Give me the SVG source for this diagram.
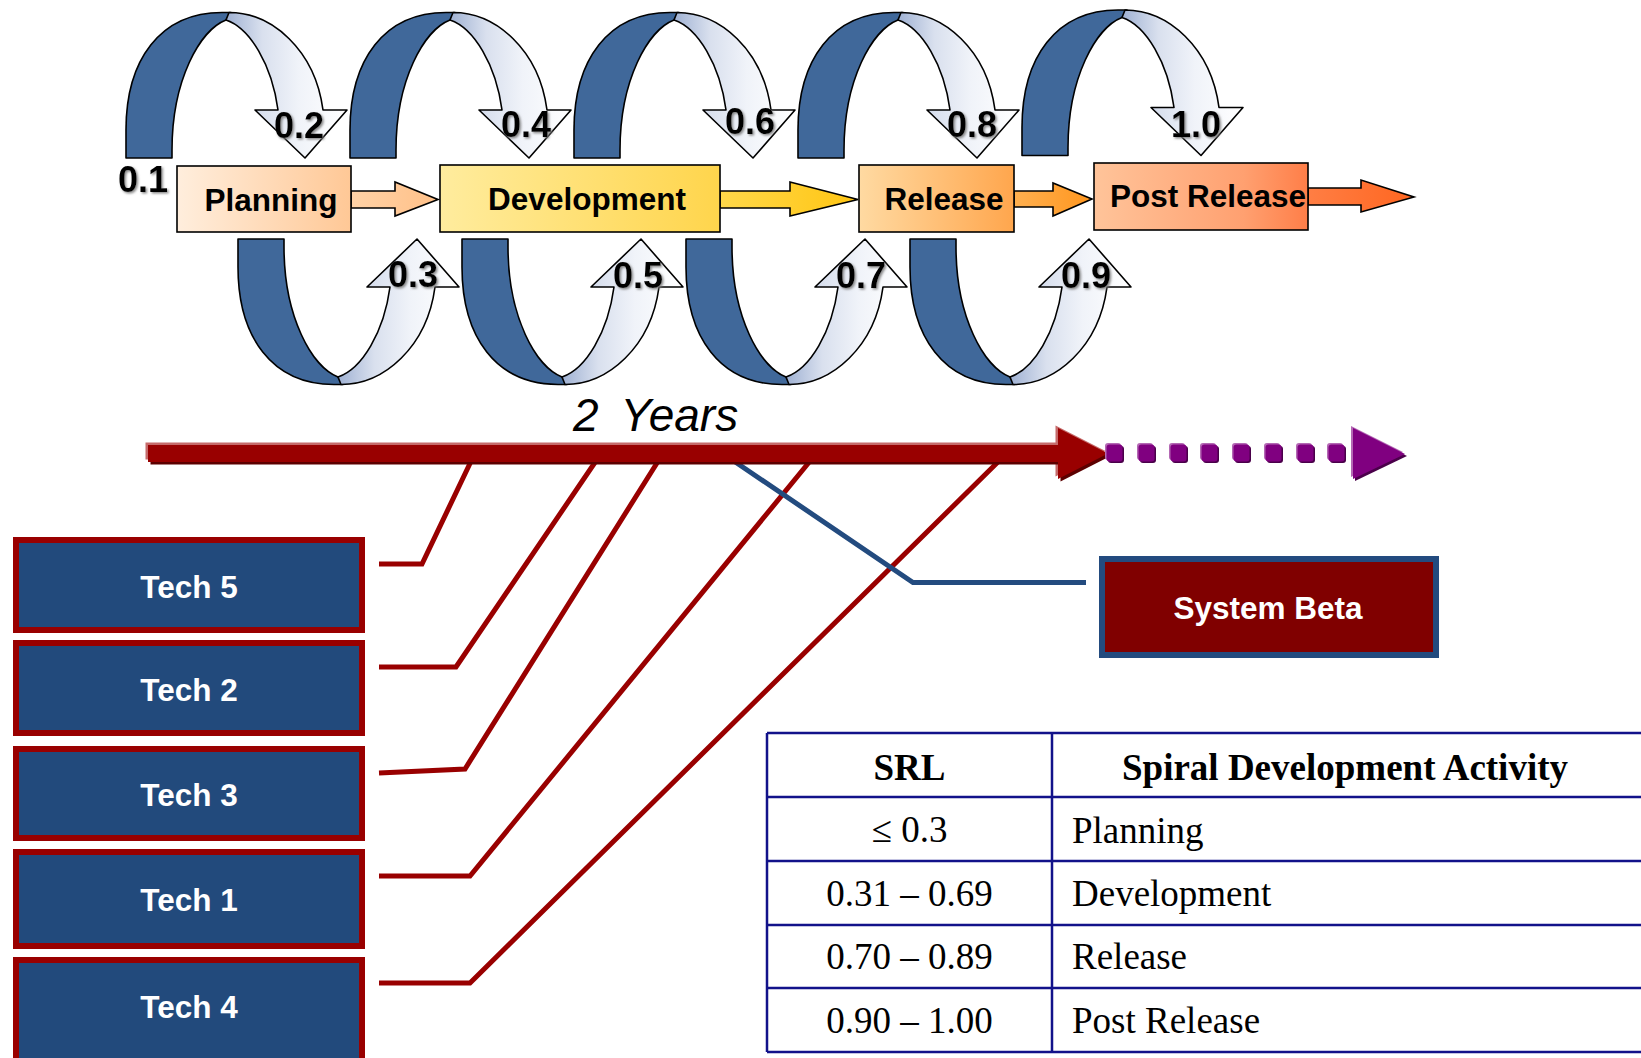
<svg xmlns="http://www.w3.org/2000/svg" xmlns:xlink="http://www.w3.org/1999/xlink" width="1641" height="1058" viewBox="0 0 1641 1058">
<style>
.blue{fill:#40689A;stroke:#000;stroke-width:1.6;stroke-linejoin:round}
.light{fill:url(#lightGrad);stroke:#000;stroke-width:1.6;stroke-linejoin:round}
.lbl{font-family:"Liberation Sans",Arial,sans-serif;font-weight:bold;font-size:36px;fill:#000;text-anchor:middle;filter:url(#sh)}
.phase{stroke:#000;stroke-width:1.6}
.ptxt{font-family:"Liberation Sans",Arial,sans-serif;font-weight:bold;font-size:31.5px;fill:#000;text-anchor:middle}
.tech rect{fill:#224A7C;stroke:#990000;stroke-width:6}
.tech text,.sys text{font-family:"Liberation Sans",Arial,sans-serif;font-weight:bold;font-size:31.5px;fill:#fff;text-anchor:middle}
.red{fill:none;stroke:#990000;stroke-width:5;stroke-linejoin:miter}
.bl{fill:none;stroke:#234B7F;stroke-width:5}
.tl{stroke:#12128A;stroke-width:2.5;fill:none}
.th{font-family:"Liberation Serif","Times New Roman",serif;font-weight:bold;font-size:37px;fill:#000}
.td{font-family:"Liberation Serif","Times New Roman",serif;font-size:37px;fill:#000}
</style>
<defs>
<linearGradient id="lightGrad" x1="0" y1="0" x2="1" y2="0">
<stop offset="0" stop-color="#9FB1D3"/><stop offset="0.3" stop-color="#D9E0EE"/><stop offset="0.6" stop-color="#F0F3F9"/><stop offset="1" stop-color="#FFFFFF"/>
</linearGradient>
<linearGradient id="gPlan" x1="0" y1="0" x2="1" y2="0"><stop offset="0" stop-color="#FFEEDD"/><stop offset="1" stop-color="#FFC896"/></linearGradient>
<linearGradient id="gPlanA" x1="0" y1="0" x2="1" y2="0"><stop offset="0" stop-color="#FFD2A6"/><stop offset="1" stop-color="#FFC088"/></linearGradient>
<linearGradient id="gDev" x1="0" y1="0" x2="1" y2="0"><stop offset="0" stop-color="#FFEC9E"/><stop offset="1" stop-color="#FFD54C"/></linearGradient>
<linearGradient id="gDevA" x1="0" y1="0" x2="1" y2="0"><stop offset="0" stop-color="#FFD84A"/><stop offset="1" stop-color="#FFC512"/></linearGradient>
<linearGradient id="gRel" x1="0" y1="0" x2="1" y2="0"><stop offset="0" stop-color="#FFDAA2"/><stop offset="1" stop-color="#FFA64D"/></linearGradient>
<linearGradient id="gRelA" x1="0" y1="0" x2="1" y2="0"><stop offset="0" stop-color="#FFB050"/><stop offset="1" stop-color="#FF961E"/></linearGradient>
<linearGradient id="gPost" x1="0" y1="0" x2="1" y2="0"><stop offset="0" stop-color="#FFC49A"/><stop offset="0.7" stop-color="#FFA070"/><stop offset="1" stop-color="#FF7E48"/></linearGradient>
<linearGradient id="gPostA" x1="0" y1="0" x2="1" y2="0"><stop offset="0" stop-color="#FF7E44"/><stop offset="1" stop-color="#FF6620"/></linearGradient>
<filter id="sh" x="-20%" y="-20%" width="140%" height="140%"><feDropShadow dx="1.5" dy="1.5" stdDeviation="0.8" flood-color="#7A7A7A" flood-opacity="0.9"/></filter>
<g id="loop">
<path class="blue" d="M126,158 L126,130 C126,60 160,12.5 222,12.5 L231,12.5 L226,20 C200,30 172,80 172,150 L172,158 Z"/>
<path class="light" d="M229,12.5 C272,12.5 315,50 323,110 L347,110 L305,158 L255,110 L278,110 C272,65 250,28 226,20 Z"/>
</g>
<path id="redArrow" d="M148,445 L1058,445 L1058,428 L1108,453.5 L1058,479 L1058,462 L148,462 Z"/>
<path id="purHead" d="M1353,428 L1405,454 L1353,479 Z"/>
<rect id="sq" width="16" height="17" rx="3"/>
</defs>
<rect width="1641" height="1058" fill="#fff"/>

<g id="loops">
<use id="loop-top-1" href="#loop"/>
<use id="loop-top-2" href="#loop" transform="translate(224,0)"/>
<use id="loop-top-3" href="#loop" transform="translate(448,0)"/>
<use id="loop-top-4" href="#loop" transform="translate(672,0)"/>
<use id="loop-top-5" href="#loop" transform="translate(896,-2.5)"/>
<use id="loop-bot-1" href="#loop" transform="translate(112,397) scale(1,-1)"/>
<use id="loop-bot-2" href="#loop" transform="translate(336,397) scale(1,-1)"/>
<use id="loop-bot-3" href="#loop" transform="translate(560,397) scale(1,-1)"/>
<use id="loop-bot-4" href="#loop" transform="translate(784,397) scale(1,-1)"/>
</g>

<g id="phase-planning">
<path class="phase" fill="url(#gPlanA)" d="M351,191 L395,191 L395,182 L438,199.5 L395,216 L395,208 L351,208 Z"/>
<rect class="phase" x="177" y="166" width="174" height="66" fill="url(#gPlan)"/>
<text class="ptxt" x="271" y="211">Planning</text>
</g>
<g id="phase-development">
<path class="phase" fill="url(#gDevA)" d="M720,191 L790,191 L790,182 L858,199.5 L790,216 L790,208 L720,208 Z"/>
<rect class="phase" x="440" y="165" width="280" height="67" fill="url(#gDev)"/>
<text class="ptxt" x="587" y="210">Development</text>
</g>
<g id="phase-release">
<path class="phase" fill="url(#gRelA)" d="M1014,191 L1053,191 L1053,183 L1092,199 L1053,216 L1053,207 L1014,207 Z"/>
<rect class="phase" x="859" y="165" width="155" height="67" fill="url(#gRel)"/>
<text class="ptxt" x="944" y="210">Release</text>
</g>
<g id="phase-post-release">
<path class="phase" fill="url(#gPostA)" d="M1308,188 L1361,188 L1361,180 L1414,197 L1361,212 L1361,205 L1308,205 Z"/>
<rect class="phase" x="1094" y="163" width="214" height="67" fill="url(#gPost)"/>
<text class="ptxt" x="1208" y="207">Post Release</text>
</g>

<g id="srl-labels">
<text class="lbl" x="143" y="192">0.1</text>
<text class="lbl" x="299" y="138">0.2</text>
<text class="lbl" x="413" y="287">0.3</text>
<text class="lbl" x="526" y="137">0.4</text>
<text class="lbl" x="638" y="288">0.5</text>
<text class="lbl" x="750" y="134">0.6</text>
<text class="lbl" x="861" y="288">0.7</text>
<text class="lbl" x="972" y="137">0.8</text>
<text class="lbl" x="1086" y="288">0.9</text>
<text class="lbl" x="1196" y="137">1.0</text>
</g>

<text id="years" x="573" y="431" font-family="Liberation Sans, Arial, sans-serif" font-style="italic" font-size="46" word-spacing="10" fill="#000">2 Years</text>

<g id="connectors">
<path class="red" d="M474,455 L422,564 L379,564"/>
<path class="red" d="M600,455 L456,667 L379,667"/>
<path class="red" d="M662,455 L465,769 L379,773"/>
<path class="red" d="M815,455 L470,876 L379,876"/>
<path class="red" d="M1005,455 L470,983 L379,983"/>
<path class="bl" d="M725,455 L913,582.5 L1086,582.5"/>
</g>

<g id="timeline">
<use href="#redArrow" transform="translate(-2.5,-2.5)" fill="#C66A6A"/>
<use href="#redArrow" transform="translate(2.5,2.5)" fill="#5C0000"/>
<use href="#redArrow" fill="#990000"/>
<g id="dots">
<g fill="#B468B4">
<use href="#sq" x="1105" y="443"/><use href="#sq" x="1137" y="443"/><use href="#sq" x="1169" y="443"/><use href="#sq" x="1200" y="443"/><use href="#sq" x="1232" y="443"/><use href="#sq" x="1264" y="443"/><use href="#sq" x="1296" y="443"/><use href="#sq" x="1327" y="443"/>
</g>
<g fill="#4A004A">
<use href="#sq" x="1108" y="446"/><use href="#sq" x="1140" y="446"/><use href="#sq" x="1172" y="446"/><use href="#sq" x="1203" y="446"/><use href="#sq" x="1235" y="446"/><use href="#sq" x="1267" y="446"/><use href="#sq" x="1299" y="446"/><use href="#sq" x="1330" y="446"/>
</g>
<g fill="#800080">
<use href="#sq" x="1106.5" y="444.5"/><use href="#sq" x="1138.5" y="444.5"/><use href="#sq" x="1170.5" y="444.5"/><use href="#sq" x="1201.5" y="444.5"/><use href="#sq" x="1233.5" y="444.5"/><use href="#sq" x="1265.5" y="444.5"/><use href="#sq" x="1297.5" y="444.5"/><use href="#sq" x="1328.5" y="444.5"/>
</g>
</g>
<use href="#purHead" transform="translate(-2,-2)" fill="#B468B4"/>
<use href="#purHead" transform="translate(2,2)" fill="#4A004A"/>
<use href="#purHead" fill="#800080"/>
</g>

<g id="tech5" class="tech"><rect x="16" y="540" width="346" height="90"/><text x="189" y="598">Tech 5</text></g>
<g id="tech2" class="tech"><rect x="16" y="643" width="346" height="90"/><text x="189" y="701">Tech 2</text></g>
<g id="tech3" class="tech"><rect x="16" y="749" width="346" height="89"/><text x="189" y="806">Tech 3</text></g>
<g id="tech1" class="tech"><rect x="16" y="852" width="346" height="94"/><text x="189" y="911">Tech 1</text></g>
<g id="tech4" class="tech"><rect x="16" y="960" width="346" height="110"/><text x="189" y="1018">Tech 4</text></g>

<g id="system-beta" class="sys">
<rect x="1102" y="559" width="334" height="96" fill="#800000" stroke="#234B7F" stroke-width="6"/>
<text x="1268" y="619">System Beta</text>
</g>

<g id="srl-table">
<path class="tl" d="M767,733 L1641,733 M767,797 L1641,797 M767,861 L1641,861 M767,925 L1641,925 M767,988 L1641,988 M767,1052 L1641,1052 M767,733 L767,1052 M1052,733 L1052,1052"/>
<text class="th" x="909.5" y="780" text-anchor="middle">SRL</text>
<text class="th" x="1122" y="780">Spiral Development Activity</text>
<text class="td" x="909.5" y="842" text-anchor="middle">≤ 0.3</text>
<text class="td" x="1072" y="843">Planning</text>
<text class="td" x="909.5" y="906" text-anchor="middle">0.31 – 0.69</text>
<text class="td" x="1072" y="906">Development</text>
<text class="td" x="909.5" y="969" text-anchor="middle">0.70 – 0.89</text>
<text class="td" x="1072" y="969">Release</text>
<text class="td" x="909.5" y="1033" text-anchor="middle">0.90 – 1.00</text>
<text class="td" x="1072" y="1033">Post Release</text>
</g>
</svg>
